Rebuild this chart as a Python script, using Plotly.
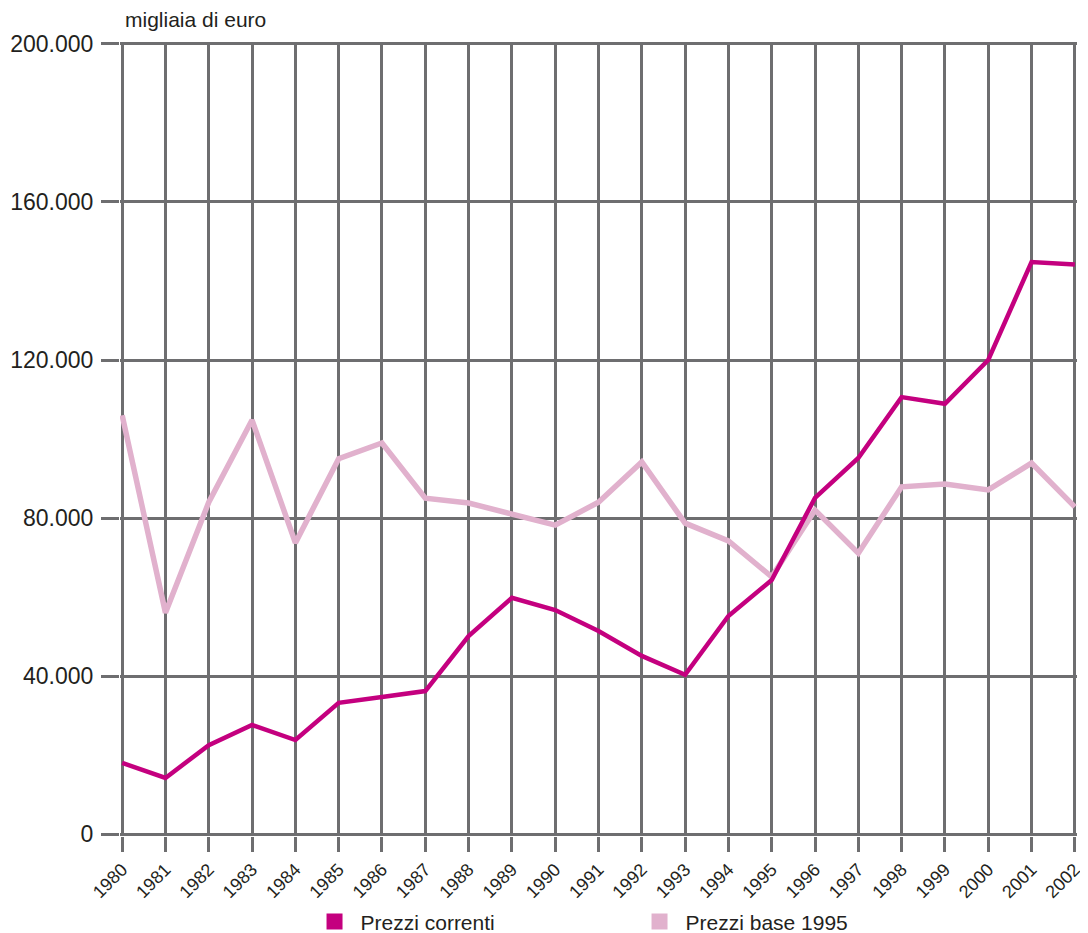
import plotly.graph_objects as go

years = list(range(1980, 2003))
prezzi_correnti = [18000, 14200, 22500, 27600, 23800, 33200, 34700, 36200, 50100, 59800,
                   56700, 51400, 45100, 40300, 55200, 64300, 85100, 95200, 110600, 108900,
                   120000, 144800, 144200]
prezzi_base_1995 = [106000, 56000, 84000, 104800, 73700, 95000, 99000, 85000, 83800, 81000,
                    78200, 84000, 94200, 78700, 74200, 65100, 82000, 71100, 87900, 88600,
                    87100, 93900, 82800]
y_tickvals = [0, 40000, 80000, 120000, 160000, 200000]
y_ticktext = ["0", "40.000", "80.000", "120.000", "160.000", "200.000"]
series_names = ["Prezzi correnti", "Prezzi base 1995"]

C_MAG = "#C4007F"
C_PINK = "#E1B1CD"
GRID = "#6E6E70"
FONT = "Liberation Sans, Arial, sans-serif"

fig = go.Figure()
fig.add_trace(go.Scatter(x=years, y=prezzi_base_1995, mode="lines",
                         line=dict(color=C_PINK, width=5.5), showlegend=False))
fig.add_trace(go.Scatter(x=years, y=prezzi_correnti, mode="lines",
                         line=dict(color=C_MAG, width=4.5), showlegend=False))
# legend entries (square swatches)
for name, col in zip(series_names, [C_MAG, C_PINK]):
    fig.add_trace(go.Scatter(x=[None], y=[None], mode="markers", name=name,
                             marker=dict(symbol="square", size=17, color=col)))

fig.update_layout(
    width=1080, height=925,
    margin=dict(l=112, r=11, t=34, b=97, autoexpand=False),
    paper_bgcolor="white", plot_bgcolor="white",
    font=dict(family=FONT, color="#231F20", size=20),
    showlegend=True,
    legend=dict(orientation="h", x=0.197, xanchor="left", y=-0.108, yanchor="middle",
                entrywidth=268, entrywidthmode="pixels", font=dict(size=21),
                itemsizing="trace", itemwidth=42, bgcolor="rgba(0,0,0,0)"),
    xaxis=dict(range=[1979.95, 2002.05], tickmode="linear", tick0=1980, dtick=1,
               showgrid=True, gridcolor=GRID, gridwidth=3, zeroline=False,
               ticks="outside", ticklen=15, tickwidth=3, tickcolor=GRID,
               tickangle=-45, tickfont=dict(size=18), showline=False,
               automargin=False),
    yaxis=dict(range=[-500, 200500], tickvals=y_tickvals, ticktext=y_ticktext,
               showgrid=True, gridcolor=GRID, gridwidth=3, zeroline=True,
               zerolinecolor=GRID, zerolinewidth=3,
               ticks="outside", ticklen=18, tickwidth=3, tickcolor=GRID,
               tickfont=dict(size=23), showline=False, automargin=False,
               ticklabelstandoff=3),
    annotations=[dict(text="migliaia di euro", xref="paper", yref="paper",
                      x=0.0, xshift=3, y=1.0, yshift=23, xanchor="left", yanchor="middle",
                      showarrow=False, font=dict(size=21))],
)

fig.write_html("out.html")
